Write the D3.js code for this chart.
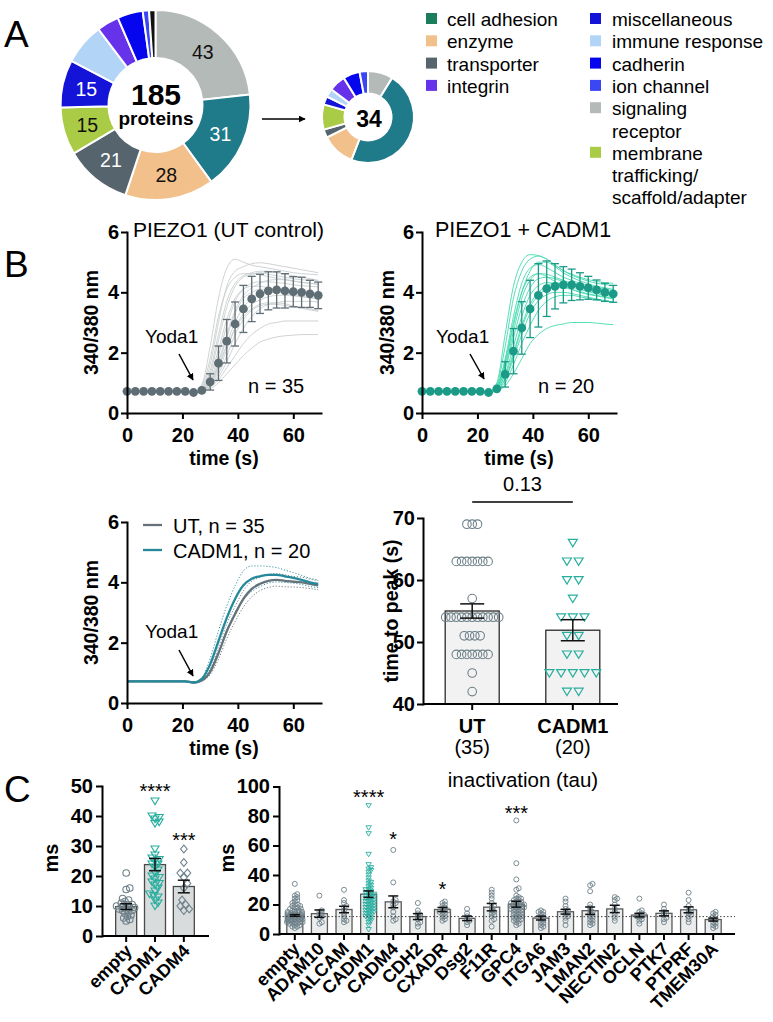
<!DOCTYPE html>
<html>
<head>
<meta charset="utf-8">
<script src="https://cdn.jsdelivr.net/npm/d3@7/dist/d3.min.js"></script>
<style>
html,body{margin:0;padding:0;background:#fff;}
svg{display:block;}
</style>
</head>
<body>
<svg id="fig" width="773" height="1022" xmlns="http://www.w3.org/2000/svg"></svg>
<script>
// ================= DATA =================
// ---- Panel A: protein classes
const legendLeftKeys = ["cell adhesion", "enzyme", "transporter", "integrin"];
const legendLeftLabels = [["cell adhesion"], ["enzyme"], ["transporter"], ["integrin"]];
const legendRightKeys = ["miscellaneous", "immune response", "cadherin", "ion channel", "signaling receptor", "membrane trafficking"];
const legendRightLabels = [["miscellaneous"], ["immune response"], ["cadherin"], ["ion channel"], ["signaling", "receptor"], ["membrane", "trafficking/", "scaffold/adapter"]];

const donutAllCategories = ["signaling receptor", "cell adhesion", "enzyme", "transporter", "membrane trafficking", "miscellaneous", "immune response", "integrin", "cadherin", "ion channel", "unassigned"];
const donutAllValues = [43, 31, 28, 21, 15, 15, 13, 7, 8, 2, 2];
const donutAllTotal = "185";
const donutHitCategories = ["signaling receptor", "cell adhesion", "enzyme", "transporter", "membrane trafficking", "miscellaneous", "immune response", "integrin", "cadherin", "ion channel"];
const donutHitValues = [3, 16, 4, 1, 3, 1, 1, 2, 2, 1];
const donutHitTotal = "34";

// ---- Panel B: calcium traces (340/380 ratio), sampled every 3 s
const timeS = [0, 3, 6, 9, 12, 15, 18, 21, 24, 27, 30, 33, 36, 39, 42, 45, 48, 51, 54, 57, 60, 63, 66, 69];
const utMean = [0.72, 0.72, 0.72, 0.72, 0.72, 0.72, 0.72, 0.72, 0.68, 0.75, 1.03, 1.65, 2.38, 2.95, 3.45, 3.78, 3.95, 4.05, 4.08, 4.05, 4.02, 4.0, 3.95, 3.9];
const utSD = [0, 0, 0, 0, 0, 0, 0, 0, 0, 0.06, 0.27, 0.57, 0.72, 0.73, 0.78, 0.75, 0.65, 0.63, 0.6, 0.57, 0.5, 0.5, 0.45, 0.44];
const utN = 35;
const cadm1Mean = [0.72, 0.72, 0.72, 0.72, 0.72, 0.72, 0.72, 0.72, 0.68, 0.8, 1.28, 2.05, 2.82, 3.45, 3.9, 4.12, 4.2, 4.25, 4.25, 4.2, 4.15, 4.08, 4.0, 3.95];
const cadm1SD = [0, 0, 0, 0, 0, 0, 0, 0, 0, 0.08, 0.42, 0.75, 0.87, 0.95, 1.05, 0.92, 0.75, 0.6, 0.52, 0.45, 0.38, 0.33, 0.3, 0.28];
const cadm1N = 20;

const utTraces = [
  [0.74,0.74,0.74,0.74,0.74,0.74,0.74,0.74,0.72,0.95,2.2,3.8,4.8,5.1,5.0,4.9,4.85,4.8,4.75,4.7,4.65,4.62,4.6,4.58],
  [0.73,0.73,0.73,0.73,0.73,0.73,0.73,0.73,0.70,0.85,1.6,3.0,4.2,4.7,4.85,4.95,4.98,4.95,4.9,4.85,4.8,4.75,4.7,4.65],
  [0.72,0.72,0.72,0.72,0.72,0.72,0.72,0.72,0.70,0.8,1.3,2.4,3.5,4.2,4.5,4.6,4.65,4.6,4.55,4.5,4.45,4.42,4.4,4.38],
  [0.72,0.72,0.72,0.72,0.72,0.72,0.72,0.72,0.69,0.78,1.1,1.9,2.9,3.7,4.1,4.3,4.35,4.35,4.32,4.3,4.25,4.22,4.2,4.18],
  [0.71,0.71,0.71,0.71,0.71,0.71,0.71,0.71,0.68,0.76,1.0,1.6,2.5,3.3,3.8,4.0,4.1,4.1,4.1,4.05,4.02,4.0,3.97,3.95],
  [0.71,0.71,0.71,0.71,0.71,0.71,0.71,0.71,0.68,0.75,0.95,1.4,2.1,2.8,3.3,3.6,3.75,3.85,3.9,3.9,3.88,3.85,3.82,3.8],
  [0.70,0.70,0.70,0.70,0.70,0.70,0.70,0.70,0.68,0.74,0.9,1.2,1.7,2.3,2.8,3.2,3.45,3.6,3.65,3.7,3.7,3.7,3.7,3.68],
  [0.70,0.70,0.70,0.70,0.70,0.70,0.70,0.70,0.67,0.72,0.85,1.1,1.5,1.9,2.3,2.6,2.8,2.95,3.0,3.05,3.05,3.05,3.05,3.05],
  [0.70,0.70,0.70,0.70,0.70,0.70,0.70,0.70,0.67,0.72,0.8,1.0,1.3,1.6,1.9,2.15,2.35,2.45,2.52,2.56,2.58,2.6,2.6,2.6],
  [0.73,0.73,0.73,0.73,0.73,0.73,0.73,0.73,0.70,0.9,1.8,3.2,4.1,4.5,4.62,4.62,4.58,4.52,4.47,4.42,4.37,4.33,4.3,4.27],
  [0.72,0.72,0.72,0.72,0.72,0.72,0.72,0.72,0.69,0.8,1.2,2.1,3.1,3.8,4.1,4.2,4.2,4.15,4.1,4.05,4.02,4.0,3.97,3.93],
  [0.72,0.72,0.72,0.72,0.72,0.72,0.72,0.72,0.69,0.77,1.05,1.7,2.6,3.4,3.9,4.15,4.3,4.4,4.42,4.42,4.38,4.33,4.3,4.27],
  [0.71,0.71,0.71,0.71,0.71,0.71,0.71,0.71,0.68,0.75,0.95,1.5,2.3,3.0,3.5,3.8,3.95,4.0,4.0,3.96,3.92,3.87,3.82,3.78],
  [0.71,0.71,0.71,0.71,0.71,0.71,0.71,0.71,0.68,0.74,0.9,1.3,1.9,2.6,3.1,3.4,3.55,3.6,3.6,3.56,3.52,3.47,3.42,3.37],
  [0.72,0.72,0.72,0.72,0.72,0.72,0.72,0.72,0.69,0.82,1.4,2.6,3.7,4.3,4.55,4.65,4.7,4.7,4.65,4.6,4.55,4.5,4.45,4.4],
  [0.71,0.71,0.71,0.71,0.71,0.71,0.71,0.71,0.68,0.76,1.0,1.55,2.2,2.8,3.2,3.45,3.6,3.65,3.65,3.62,3.55,3.5,3.45,3.4]
];
const cadm1Traces = [
  [0.73,0.73,0.73,0.73,0.73,0.73,0.73,0.73,0.70,1.0,2.6,4.2,5.0,5.25,5.22,5.1,4.9,4.72,4.6,4.5,4.42,4.36,4.32,4.3],
  [0.73,0.73,0.73,0.73,0.73,0.73,0.73,0.73,0.70,0.95,2.2,3.8,4.7,5.1,5.2,5.1,4.9,4.72,4.57,4.46,4.37,4.3,4.26,4.22],
  [0.72,0.72,0.72,0.72,0.72,0.72,0.72,0.72,0.69,0.9,1.8,3.2,4.3,4.8,4.92,4.82,4.66,4.5,4.4,4.3,4.22,4.16,4.1,4.06],
  [0.72,0.72,0.72,0.72,0.72,0.72,0.72,0.72,0.69,0.85,1.5,2.7,3.8,4.4,4.62,4.6,4.5,4.4,4.3,4.2,4.12,4.05,4.0,3.96],
  [0.72,0.72,0.72,0.72,0.72,0.72,0.72,0.72,0.68,0.8,1.3,2.2,3.2,3.9,4.22,4.32,4.3,4.25,4.18,4.1,4.02,3.96,3.9,3.86],
  [0.71,0.71,0.71,0.71,0.71,0.71,0.71,0.71,0.68,0.78,1.15,1.9,2.8,3.5,3.9,4.1,4.16,4.15,4.1,4.02,3.95,3.9,3.85,3.8],
  [0.71,0.71,0.71,0.71,0.71,0.71,0.71,0.71,0.68,0.76,1.0,1.6,2.3,2.9,3.4,3.7,3.85,3.9,3.9,3.85,3.8,3.75,3.71,3.68],
  [0.70,0.70,0.70,0.70,0.70,0.70,0.70,0.70,0.67,0.74,0.9,1.3,1.8,2.3,2.6,2.8,2.9,2.95,3.0,3.0,3.0,2.98,2.95,2.93],
  [0.72,0.72,0.72,0.72,0.72,0.72,0.72,0.72,0.69,0.88,1.7,3.0,4.0,4.5,4.62,4.52,4.36,4.22,4.1,4.0,3.93,3.88,3.83,3.78],
  [0.72,0.72,0.72,0.72,0.72,0.72,0.72,0.72,0.68,0.8,1.25,2.0,2.9,3.6,4.0,4.22,4.3,4.3,4.26,4.2,4.14,4.08,4.03,3.98],
  [0.71,0.71,0.71,0.71,0.71,0.71,0.71,0.71,0.68,0.77,1.1,1.8,2.6,3.3,3.72,3.92,4.0,4.0,3.96,3.9,3.84,3.78,3.73,3.68],
  [0.72,0.72,0.72,0.72,0.72,0.72,0.72,0.72,0.69,0.83,1.45,2.5,3.5,4.15,4.45,4.5,4.45,4.35,4.25,4.15,4.07,4.0,3.95,3.9],
  [0.72,0.72,0.72,0.72,0.72,0.72,0.72,0.72,0.69,0.86,1.6,2.9,4.0,4.7,5.0,5.0,4.85,4.65,4.5,4.38,4.28,4.2,4.15,4.1]
];

// ---- Panel B: time to peak
const peakGroups = ["UT", "CADM1"];
const peakGroupN = ["(35)", "(20)"];
const peakUT = [69,69,69, 63,63,63,63,63,63,63, 57, 54,54,54,54,54,54,54,54,54,54,54, 51,51,51,51, 48,48,48,48,48,48,48, 45, 42];
const peakCADM1 = [66, 63,63, 60,60, 57, 54,54,54, 51,51, 48,48, 45,45,45,45,45, 42,42];
const peakMean = [55.0, 51.9];
const peakSEM = [1.15, 1.7];
const peakPValue = "0.13";

// ---- Panel C left
const cLeftGroups = ["empty", "CADM1", "CADM4"];
const cLeftMean = [9.8, 23.8, 16.5];
const cLeftSEM = [0.95, 2.05, 2.1];
const cLeftStars = ["", "****", "***"];
const cLeftEmpty = [21,16,15.5,12.5,12,11.5,11,10.5,10.5,10,10,9.5,9.5,9,9,8.5,8.5,8,7.5,7,6.5,6,5.5,5];
const cLeftCADM1 = [45,40,39.5,39,38,37.5,29,27,26,25.5,25,24,24,23,22,21,20,19.5,19,18,17.5,17,16,15,14,13.5,13,12,11,10];
const cLeftCADM4 = [29,24.5,21,21,19.5,17.5,16,12,10.5,10,9,8.5];

// ---- Panel C right: inactivation (tau)
const cRightGroups = ["empty","ADAM10","ALCAM","CADM1","CADM4","CDH2","CXADR","Dsg2","F11R","GPC4","ITGA6","JAM3","LMAN2","NECTIN2","OCLN","PTK7","PTPRF","TMEM30A"];
const cRightMean = [12.6,13.8,16.6,27,21.8,11.8,16.6,10.6,18.2,20.2,10.8,15.1,15.8,17,12.8,14,16.4,9.8];
const cRightSEM = [0.6,2.5,2.2,2.2,4,2,1.4,1.5,2.5,2,1.3,1.6,2.5,2.5,1.2,1.7,2,1];
const cRightStars = ["","","","****","*","","*","","","***","","","","","","","",""];
const cRightRef = 11.8;
const cRightPoints = [
  [34,27,26,25,24,23,22,21,20,20,19,19,18,18,17,17,16,16,16,15,15,15,15,14,14,14,14,14,13,13,13,13,13,13,12,12,12,12,12,12,12,11,11,11,11,11,11,10,10,10,10,10,10,9,9,9,9,9,8,8,8,8,7,7,7,6,6,5,5,4],
  [26,16,15,14,13,12,11,8,7],
  [30,23,21,19,18,16,14,12,10,9,8],
  [87,72,68,54,47,45,44,43,42,40,38,36,35,34,33,32,31,30,30,29,28,28,27,27,26,26,25,25,24,24,23,23,22,22,21,21,20,20,19,19,18,18,17,17,16,16,15,15,14,14,13,12,12,11,10,9,8,6,3],
  [57,35,23,22,21,20,18,15,12,10,9],
  [21,16,14,13,12,11,10,8,7,5],
  [22,21,20,19,18,17,16,16,15,15,14,13,12,11,10,9],
  [17,14,12,11,10,9,8,6],
  [30,28,26,24,21,19,18,16,15,14,13,12,10,9,5],
  [77,48,37,31,30,26,25,24,24,23,23,22,22,21,21,21,20,20,20,19,19,19,18,18,18,17,17,17,16,16,15,15,14,14,13,13,12,12,11,11,10,10,9,9,8,7,6],
  [16,15,15,14,13,12,11,10,9,8,7,6,5,4],
  [24,22,19,17,16,15,14,13,12,11,9,6],
  [34,33,29,20,18,16,15,14,13,12,11,10,9,8,7,6],
  [25,24,23,20,17,15,13,11,9],
  [24,16,15,14,13,13,12,12,11,10,9,7],
  [20,17,15,14,13,11,10,8],
  [28,23,19,17,16,15,14,13,12,10,8],
  [15,14,13,12,10,9,8,7,6,5,4]
];

// ================= STYLE =================
const FONT = '"Liberation Sans", Arial, Helvetica, sans-serif';
const legendColors = {
  "cell adhesion": "#1b7e5a", "enzyme": "#f1c08b", "transporter": "#55646d", "integrin": "#6632ea",
  "miscellaneous": "#1414d8", "immune response": "#b2d4f7", "cadherin": "#0606ee", "ion channel": "#3c47f4",
  "signaling receptor": "#b4bab8", "membrane trafficking": "#a9cb45", "unassigned": "#111111"
};
const donutColors = Object.assign({}, legendColors, {"cell adhesion": "#1f7a8a"});
const darkLabelCats = new Set(["signaling receptor", "enzyme", "membrane trafficking"]);
const UT_COL = "#5f6d74", UT_TRACE = "#c9cece";
const CA_COL = "#1b9a88", CA_TRACE = "#43d9ae";
const UT_LINE = "#65727a", CA_LINE = "#24899a";
const PT_GREY = "#6e8089", PT_TEAL = "#27ae9f";

// ================= DRAW =================
const svg = d3.select("#fig").attr("font-family", FONT);
svg.append("rect").attr("width", 773).attr("height", 1022).attr("fill", "#fff");
const defs = svg.append("defs");
defs.append("marker").attr("id", "arrow").attr("viewBox", "0 0 10 10").attr("refX", 9).attr("refY", 5)
  .attr("markerWidth", 7).attr("markerHeight", 7).attr("orient", "auto-start-reverse")
  .attr("markerUnits", "userSpaceOnUse")
  .append("path").attr("d", "M0,0 L10,5 L0,10 Z").attr("fill", "#000");

function text(x, y, s, o = {}) {
  const t = svg.append("text").attr("x", x).attr("y", y).text(s)
    .attr("font-size", o.size || 20).attr("font-weight", o.weight || "normal")
    .attr("text-anchor", o.anchor || "start").attr("fill", o.fill || "#000");
  if (o.rotate) t.attr("transform", `rotate(${o.rotate},${x},${y})`);
  if (o.dy) t.attr("dy", o.dy);
  return t;
}
function styleAxis(g, size) {
  g.attr("font-family", FONT).attr("font-size", size || 20).attr("font-weight", "bold");
  g.select(".domain").attr("stroke", "#000").attr("stroke-width", 2).attr("stroke-linecap", "square");
  g.selectAll(".tick line").attr("stroke", "#000").attr("stroke-width", 2);
  g.selectAll(".tick text").attr("fill", "#000");
}
const intFmt = d3.format("d");

// Panel letters
text(4, 47, "A", {size: 37});
text(4, 277, "B", {size: 37});
text(4, 802, "C", {size: 37});

// ---------- Panel A ----------
function donut(cx, cy, rOut, rIn, cats, vals, showLabels) {
  const pie = d3.pie().sort(null).value(d => d.v);
  const arcs = pie(cats.map((c, i) => ({c, v: vals[i]})));
  const arc = d3.arc().innerRadius(rIn).outerRadius(rOut);
  const g = svg.append("g").attr("transform", `translate(${cx},${cy})`);
  g.selectAll("path").data(arcs).join("path").attr("d", arc)
    .attr("fill", d => donutColors[d.data.c]).attr("stroke", "#fff").attr("stroke-width", 2);
  if (showLabels) {
    const la = d3.arc().innerRadius((rIn + rOut) / 2).outerRadius((rIn + rOut) / 2);
    g.selectAll("text").data(arcs.filter(d => d.data.v >= 15)).join("text")
      .attr("transform", d => `translate(${la.centroid(d)})`)
      .attr("text-anchor", "middle").attr("dy", "0.36em").attr("font-size", 19.5)
      .attr("fill", d => darkLabelCats.has(d.data.c) ? "#111" : "#fff").text(d => d.data.v);
  }
  return g;
}
donut(155.5, 105, 95, 47, donutAllCategories, donutAllValues, true);
text(156, 105, donutAllTotal, {size: 30, weight: "bold", anchor: "middle"});
text(156, 125, "proteins", {size: 19, weight: "bold", anchor: "middle"});
svg.append("line").attr("x1", 262).attr("y1", 119).attr("x2", 305).attr("y2", 119)
  .attr("stroke", "#000").attr("stroke-width", 1.6).attr("marker-end", "url(#arrow)");
donut(368, 117, 46, 23.5, donutHitCategories, donutHitValues, false);
text(369, 127, donutHitTotal, {size: 23, weight: "bold", anchor: "middle"});

// legend
const legStep = 22.3;
legendLeftKeys.forEach((k, i) => {
  const by = 26 + i * legStep;
  svg.append("rect").attr("x", 426).attr("y", by - 13).attr("width", 11).attr("height", 11).attr("fill", legendColors[k]);
  legendLeftLabels[i].forEach((l, j) => text(447, by + j * legStep, l, {size: 19}));
});
let lineIdx = 0;
legendRightKeys.forEach((k, i) => {
  const by = 26 + lineIdx * legStep;
  svg.append("rect").attr("x", 590).attr("y", by - 13).attr("width", 11).attr("height", 11).attr("fill", legendColors[k]);
  legendRightLabels[i].forEach((l, j) => text(612, by + j * legStep, l, {size: 19}));
  lineIdx += legendRightLabels[i].length;
});

// ---------- Panel B traces ----------
function tracePanel(o) {
  const x = d3.scaleLinear().domain([0, 70]).range([o.x0, o.x0 + 194]);
  const y = d3.scaleLinear().domain([0, 6]).range([o.y0, o.y0 - 181]);
  const line = d3.line().x((d, i) => x(timeS[i])).y(d => y(d)).curve(d3.curveMonotoneX);
  const g = svg.append("g");
  if (o.traces) {
    g.selectAll(".tr").data(o.traces).join("path").attr("d", line)
      .attr("fill", "none").attr("stroke", o.traceCol).attr("stroke-width", 0.9);
  }
  return {x, y, g, line};
}
function axesTime(P, yLabelX) {
  const ga = svg.append("g").attr("transform", `translate(${P.x.range()[0]},0)`)
    .call(d3.axisLeft(P.y).tickValues([0, 2, 4, 6]).tickFormat(intFmt).tickSize(6).tickSizeOuter(0).tickPadding(2));
  styleAxis(ga);
  const gb = svg.append("g").attr("transform", `translate(0,${P.y.range()[0]})`)
    .call(d3.axisBottom(P.x).tickValues([0, 20, 40, 60]).tickFormat(intFmt).tickSize(6).tickSizeOuter(0).tickPadding(9));
  styleAxis(gb);
  const xm = (P.x.range()[0] + P.x.range()[1]) / 2;
  text(xm, P.y.range()[0] + 52, "time (s)", {size: 19.5, weight: "bold", anchor: "middle"});
  const ym = (P.y.range()[0] + P.y.range()[1]) / 2;
  text(yLabelX, ym, "340/380 nm", {size: 19.5, weight: "bold", anchor: "middle", rotate: -90});
}
function meanDots(P, mean, sd, col) {
  const pts = timeS.map((t, i) => ({t, m: mean[i], s: sd[i]}));
  const eb = pts.filter(d => d.s > 0.1);
  const g = P.g;
  eb.forEach(d => {
    const xx = P.x(d.t);
    g.append("line").attr("x1", xx).attr("x2", xx).attr("y1", P.y(d.m - d.s)).attr("y2", P.y(d.m + d.s)).attr("stroke", col).attr("stroke-width", 1.3);
    [d.m - d.s, d.m + d.s].forEach(v => g.append("line").attr("x1", xx - 4).attr("x2", xx + 4).attr("y1", P.y(v)).attr("y2", P.y(v)).attr("stroke", col).attr("stroke-width", 1.3));
  });
  g.selectAll(".md").data(pts).join("circle").attr("cx", d => P.x(d.t)).attr("cy", d => P.y(d.m)).attr("r", 4.4).attr("fill", col);
}
function yoda(x, y, ax1, ay1, ax2, ay2) {
  text(x, y, "Yoda1", {size: 19});
  svg.append("line").attr("x1", ax1).attr("y1", ay1).attr("x2", ax2).attr("y2", ay2)
    .attr("stroke", "#000").attr("stroke-width", 1.5).attr("marker-end", "url(#arrow)");
}

const P1 = tracePanel({x0: 127, y0: 413, traces: utTraces, traceCol: UT_TRACE});
meanDots(P1, utMean, utSD, UT_COL);
axesTime(P1, 98);
text(133, 237, "PIEZO1 (UT control)", {size: 21});
yoda(145, 343, 179, 354, 193, 380);
text(248, 393, "n = 35", {size: 20});

const P2 = tracePanel({x0: 422, y0: 413, traces: cadm1Traces, traceCol: CA_TRACE});
meanDots(P2, cadm1Mean, cadm1SD, CA_COL);
axesTime(P2, 394);
text(435, 237, "PIEZO1 + CADM1", {size: 21.5});
yoda(436, 343, 470, 354, 484, 379);
text(538, 393, "n = 20", {size: 20});

// overlay mean traces with 95% CI
const P3 = tracePanel({x0: 127, y0: 703});
function ciLine(mean, sd, n, sign) { return mean.map((m, i) => m + sign * 2.05 * sd[i] / Math.sqrt(n)); }
[[utMean, utSD, utN, UT_LINE], [cadm1Mean, cadm1SD, cadm1N, CA_LINE]].forEach(([m, s, n, c]) => {
  [1, -1].forEach(sg => P3.g.append("path").attr("d", P3.line(ciLine(m, s, n, sg))).attr("fill", "none")
    .attr("stroke", c).attr("stroke-width", 1).attr("stroke-dasharray", "1.2,1.8").attr("opacity", 0.9));
});
P3.g.append("path").attr("d", P3.line(utMean)).attr("fill", "none").attr("stroke", UT_LINE).attr("stroke-width", 2.3);
P3.g.append("path").attr("d", P3.line(cadm1Mean)).attr("fill", "none").attr("stroke", CA_LINE).attr("stroke-width", 2.3);
axesTime(P3, 98);
yoda(145, 638, 179, 650, 193, 676);
[["UT, n = 35", UT_LINE, 525], ["CADM1, n = 20", CA_LINE, 550]].forEach(([l, c, yy]) => {
  svg.append("line").attr("x1", 143).attr("x2", 162).attr("y1", yy).attr("y2", yy).attr("stroke", c).attr("stroke-width", 2.3);
  text(173, yy + 7.5, l, {size: 20});
});

// ---------- Panel B: time to peak ----------
{
  const y = d3.scaleLinear().domain([40, 70]).range([704, 518]);
  const x = d3.scaleBand().domain(peakGroups).range([439.5, 605.5]).paddingInner(0.35).paddingOuter(0.0);
  const bw = 54;
  const cx = g => x(g) + x.bandwidth() / 2;
  peakGroups.forEach((gname, i) => {
    svg.append("rect").attr("x", cx(gname) - bw / 2).attr("y", y(peakMean[i])).attr("width", bw)
      .attr("height", y(40) - y(peakMean[i])).attr("fill", "#f2f2f2").attr("stroke", "#2b2b2b").attr("stroke-width", 1.3);
  });
  function rows(vals, c, spacing, draw) {
    const grp = d3.group(vals, v => v);
    for (const [v, arr] of grp) {
      const n = arr.length;
      arr.forEach((_, k) => draw(c + (k - (n - 1) / 2) * spacing, y(v)));
    }
  }
  rows(peakUT, cx("UT"), 5.3, (px, py) => svg.append("circle").attr("cx", px).attr("cy", py).attr("r", 4.3)
    .attr("fill", "none").attr("stroke", PT_GREY).attr("stroke-width", 1.1));
  rows(peakCADM1, cx("CADM1"), 11.7, (px, py) => svg.append("path")
    .attr("d", `M${px - 4.5},${py - 3.4} L${px + 4.5},${py - 3.4} L${px},${py + 4} Z`)
    .attr("fill", "none").attr("stroke", PT_TEAL).attr("stroke-width", 1.2));
  peakGroups.forEach((gname, i) => {
    const c = cx(gname), m = peakMean[i], s = peakSEM[i];
    svg.append("line").attr("x1", c).attr("x2", c).attr("y1", y(m - s)).attr("y2", y(m + s)).attr("stroke", "#111").attr("stroke-width", 1.5);
    [m - s, m + s].forEach(v => svg.append("line").attr("x1", c - 12).attr("x2", c + 12).attr("y1", y(v)).attr("y2", y(v)).attr("stroke", "#111").attr("stroke-width", 1.5));
  });
  const ga = svg.append("g").attr("transform", "translate(423,0)")
    .call(d3.axisLeft(y).tickValues([40, 50, 60, 70]).tickSize(6).tickSizeOuter(0).tickPadding(2));
  styleAxis(ga);
  svg.append("line").attr("x1", 423).attr("x2", 618).attr("y1", 704).attr("y2", 704).attr("stroke", "#000").attr("stroke-width", 2);
  peakGroups.forEach((gname, i) => {
    const c = cx(gname);
    svg.append("line").attr("x1", c).attr("x2", c).attr("y1", 704).attr("y2", 710).attr("stroke", "#000").attr("stroke-width", 2);
    text(c, 733, gname, {size: 20, weight: "bold", anchor: "middle"});
    text(c, 754, peakGroupN[i], {size: 20, anchor: "middle"});
  });
  text(398, 611, "time to peak (s)", {size: 19.5, weight: "bold", anchor: "middle", rotate: -90});
  svg.append("line").attr("x1", cx("UT")).attr("x2", cx("CADM1")).attr("y1", 502).attr("y2", 502).attr("stroke", "#000").attr("stroke-width", 1.6);
  text((cx("UT") + cx("CADM1")) / 2, 491, peakPValue, {size: 20, anchor: "middle"});
  text(523, 787, "inactivation (tau)", {size: 20.5, anchor: "middle"});
}

// ---------- Panel C ----------
// deterministic beeswarm: each point takes the nearest free horizontal slot
function swarm(values, yS, cx, minDist, maxHalf) {
  const placed = [];
  const vals = values.slice().sort((a, b) => a - b);
  for (const v of vals) {
    const yy = yS(v);
    let k = 0, xx = cx;
    for (;;) {
      const off = k === 0 ? 0 : (k % 2 === 1 ? 1 : -1) * Math.ceil(k / 2) * 0.6;
      xx = cx + off;
      let ok = true;
      for (const p of placed) { const dx = p.x - xx, dy = p.y - yy; if (dx * dx + dy * dy < minDist * minDist) { ok = false; break; } }
      if (ok) break;
      if (Math.abs(off) >= maxHalf) { xx = cx + ((placed.length % 5) - 2) * maxHalf / 2.5; break; }
      k++;
    }
    placed.push({x: xx, y: yy});
  }
  return placed;
}
function drawMarker(type, x, y, s, col, sw) {
  if (type === "circle") return svg.append("circle").attr("cx", x).attr("cy", y).attr("r", s).attr("fill", "none").attr("stroke", col).attr("stroke-width", sw);
  if (type === "tri") return svg.append("path").attr("d", `M${x - s},${y - 0.75 * s} L${x + s},${y - 0.75 * s} L${x},${y + 0.9 * s} Z`).attr("fill", "none").attr("stroke", col).attr("stroke-width", sw);
  return svg.append("path").attr("d", `M${x},${y - s * 1.2} L${x + s},${y} L${x},${y + s * 1.2} L${x - s},${y} Z`).attr("fill", "none").attr("stroke", col).attr("stroke-width", sw);
}
function errBar(c, yS, m, s, half) {
  svg.append("line").attr("x1", c).attr("x2", c).attr("y1", yS(m - s)).attr("y2", yS(m + s)).attr("stroke", "#111").attr("stroke-width", 1.5);
  [m - s, m + s].forEach(v => svg.append("line").attr("x1", c - half).attr("x2", c + half).attr("y1", yS(v)).attr("y2", yS(v)).attr("stroke", "#111").attr("stroke-width", 1.5));
}

// C left
{
  const y = d3.scaleLinear().domain([0, 50]).range([936, 786]);
  const x = d3.scaleBand().domain(cLeftGroups).range([107, 203]).padding(0.33);
  const cx = g => x(g) + x.bandwidth() / 2;
  const bw = 21;
  cLeftGroups.forEach((gname, i) => {
    svg.append("rect").attr("x", cx(gname) - bw / 2).attr("y", y(cLeftMean[i])).attr("width", bw).attr("height", y(0) - y(cLeftMean[i]))
      .attr("fill", "#d9dcdc").attr("stroke", "#4a4a4a").attr("stroke-width", 1.3);
  });
  const sets = [[cLeftEmpty, "circle", PT_GREY, 3.3, 3.6], [cLeftCADM1, "tri", PT_TEAL, 4, 4.2], [cLeftCADM4, "diamond", PT_GREY, 3.3, 5.5]];
  sets.forEach(([vals, type, col, s, md], i) => {
    swarm(vals, y, cx(cLeftGroups[i]), md, 10).forEach(p => drawMarker(type, p.x, p.y, s, col, 1.1));
  });
  cLeftGroups.forEach((gname, i) => errBar(cx(gname), y, cLeftMean[i], cLeftSEM[i], 6));
  const ga = svg.append("g").attr("transform", "translate(102,0)")
    .call(d3.axisLeft(y).tickValues([0, 10, 20, 30, 40, 50]).tickSize(6).tickSizeOuter(0).tickPadding(3));
  styleAxis(ga);
  svg.append("line").attr("x1", 102).attr("x2", 209).attr("y1", 936).attr("y2", 936).attr("stroke", "#000").attr("stroke-width", 2);
  cLeftGroups.forEach((gname, i) => {
    const c = cx(gname);
    svg.append("line").attr("x1", c).attr("x2", c).attr("y1", 936).attr("y2", 942).attr("stroke", "#000").attr("stroke-width", 2);
    text(c + 7, 952, gname, {size: 18, weight: "bold", anchor: "end", rotate: -45});
    if (cLeftStars[i]) text(c, i === 1 ? 798 : 847, cLeftStars[i], {size: 20, anchor: "middle"});
  });
  text(58, 858, "ms", {size: 20, weight: "bold", anchor: "middle", rotate: -90});
}

// C right
{
  const y = d3.scaleLinear().domain([0, 100]).range([934, 786.5]);
  const x = d3.scaleBand().domain(cRightGroups).range([282.5, 725.5]).paddingInner(0.35).paddingOuter(0.175);
  const cx = g => x(g) + x.bandwidth() / 2;
  const bw = 16;
  cRightGroups.forEach((gname, i) => {
    svg.append("rect").attr("x", cx(gname) - bw / 2).attr("y", y(cRightMean[i])).attr("width", bw).attr("height", y(0) - y(cRightMean[i]))
      .attr("fill", "#ebeded").attr("stroke", "#5a5a5a").attr("stroke-width", 1.3);
  });
  cRightGroups.forEach((gname, i) => {
    const isTeal = gname === "CADM1";
    swarm(cRightPoints[i], y, cx(gname), 2.6, 9).forEach(p =>
      drawMarker(isTeal ? "tri" : "circle", p.x, p.y, isTeal ? 2.7 : 2.5, isTeal ? PT_TEAL : PT_GREY, 0.9));
  });
  svg.append("line").attr("x1", 279).attr("x2", 735).attr("y1", y(cRightRef)).attr("y2", y(cRightRef))
    .attr("stroke", "#444").attr("stroke-width", 1).attr("stroke-dasharray", "1.5,2");
  cRightGroups.forEach((gname, i) => errBar(cx(gname), y, cRightMean[i], cRightSEM[i], 5));
  const ga = svg.append("g").attr("transform", "translate(279,0)")
    .call(d3.axisLeft(y).tickValues([0, 20, 40, 60, 80, 100]).tickSize(6).tickSizeOuter(0).tickPadding(3));
  styleAxis(ga);
  svg.append("line").attr("x1", 279).attr("x2", 735).attr("y1", 934).attr("y2", 934).attr("stroke", "#000").attr("stroke-width", 2);
  const starY = {"CADM1": 804, "CADM4": 846, "CXADR": 896, "GPC4": 820};
  cRightGroups.forEach((gname, i) => {
    const c = cx(gname);
    svg.append("line").attr("x1", c).attr("x2", c).attr("y1", 934).attr("y2", 940).attr("stroke", "#000").attr("stroke-width", 2);
    text(c + 6, 950, gname, {size: 18, weight: "bold", anchor: "end", rotate: -45});
    if (cRightStars[i]) text(c, starY[gname], cRightStars[i], {size: 20, anchor: "middle"});
  });
  text(234, 858, "ms", {size: 20, weight: "bold", anchor: "middle", rotate: -90});
}
</script>
</body>
</html>
